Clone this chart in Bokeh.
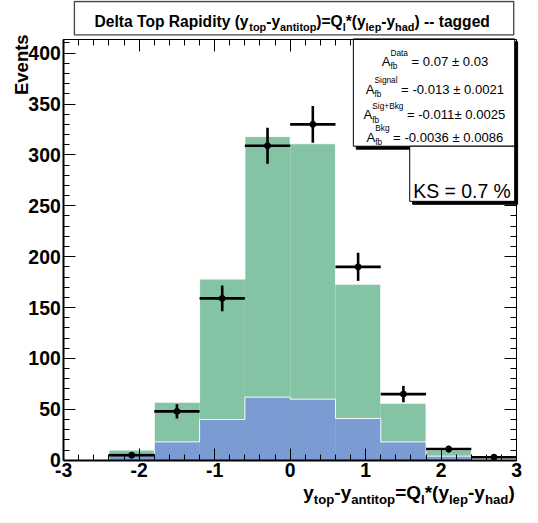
import numpy as np
from bokeh.plotting import figure
from bokeh.models import (Range1d, LinearAxis, FixedTicker, SingleIntervalTicker,
                          CustomJSTickFormatter, ColumnDataSource)
from bokeh.core.properties import value
from bokeh.embed import file_html
from bokeh.resources import INLINE

# ---------------- data ----------------
bin_edges = [-3.0, -2.4, -1.8, -1.2, -0.6, 0.0, 0.6, 1.2, 1.8, 2.4, 3.0]
sig_bkg_counts = [0, 10, 57, 178, 318, 311, 173, 56, 10, 1]      # green, stacked total
bkg_counts = [0, 6, 18, 40, 62, 60, 41, 18, 4, 0.5]             # blue
data_counts = [0, 5, 48, 159, 309, 330, 190, 65, 11, 3]          # black points

x_ticks = [-3, -2, -1, 0, 1, 2, 3]
x_tick_labels = ["-3", "-2", "-1", "0", "1", "2", "3"]
y_ticks = [0, 50, 100, 150, 200, 250, 300, 350, 400]
y_tick_labels = ["0", "50", "100", "150", "200", "250", "300", "350", "400"]

stat_names = ["Data", "Signal", "Sig+Bkg", "Bkg"]
stat_values = ["= 0.07 ± 0.03", "= -0.013 ± 0.0021", "= -0.011± 0.0025", "= -0.0036 ± 0.0086"]
ks_text = "KS = 0.7 %"
y_title = "Events"

X_MIN, X_MAX = -3.0, 3.0
Y_MAX = 413.0

GREEN = "#85C3A5"
BLUE = "#7B9BD3"
FONT = "Liberation Sans"

# ---------------- geometry (reference image px -> canvas px) ----------------
W, H = 522, 507
SX = 520.0 / 535.0
SY = 505.0 / 513.0


def fx(ix):
    return 1 + (ix - 3) * SX


def fy(iy):
    return 1 + (iy - 6) * SY


L = fx(67)
R = fx(533)
T = fy(45)
B = fy(472)
PX_X = (X_MAX - X_MIN) / (R - L)   # data units per px
PX_Y = Y_MAX / (B - T)


def img2data(ix, iy):
    x = X_MIN + (fx(ix) - L) * PX_X
    y = (B - fy(iy)) * PX_Y
    return x, y


x_range = Range1d(X_MIN - L * PX_X, X_MAX + (W - R) * PX_X)
y_range = Range1d(-(H - B) * PX_Y, Y_MAX + T * PX_Y)

p = figure(width=W, height=H, x_range=x_range, y_range=y_range,
           output_backend="svg", toolbar_location=None,
           x_axis_type=None, y_axis_type=None, min_border=0)
p.grid.visible = False
p.outline_line_color = None

# ---------------- histograms ----------------
edges = np.array(bin_edges)
lefts, rights = edges[:-1], edges[1:]
p.quad(left=lefts, right=rights, bottom=0, top=sig_bkg_counts, fill_color=GREEN, line_color=None)
p.step(x=bin_edges, y=sig_bkg_counts + [sig_bkg_counts[-1]], mode="after",
       line_color="white", line_width=1, line_alpha=0.9)
p.quad(left=lefts, right=rights, bottom=0, top=bkg_counts, fill_color=BLUE, line_color=None)
p.step(x=bin_edges, y=bkg_counts + [bkg_counts[-1]], mode="after",
       line_color="white", line_width=1, line_alpha=0.9)

# ---------------- data points ----------------
dc = np.array(data_counts, dtype=float)
centers = (lefts + rights) / 2
m = dc > 0
err = np.sqrt(dc[m])
p.segment(x0=lefts[m], x1=rights[m], y0=dc[m], y1=dc[m], line_color="black", line_width=2.6)
p.segment(x0=centers[m], x1=centers[m], y0=dc[m] - err, y1=dc[m] + err, line_color="black", line_width=2.6)
p.scatter(centers[m], dc[m], size=6, color="black")

# ---------------- boxes (title + stats), drawn as glyphs ----------------
box_specs = [  # (left, top, right, bottom) in reference px, shadow, line colour, width
    ((78, 6, 530, 40), 0, "#444444", 1.3),
    ((365, 44, 531, 153), 3, "black", 1.0),
    ((423, 153, 531, 209), 3, "black", 1.0),
]
sh_l, sh_r, sh_t, sh_b = [], [], [], []
bx_l, bx_r, bx_t, bx_b, bx_c, bx_w = [], [], [], [], [], []
for (l, t, r, b), sh, lc, lw in box_specs:
    if sh:
        x0, y0 = img2data(l + sh, t + sh)
        x1, y1 = img2data(r + sh, b + sh)
        sh_l.append(x0); sh_r.append(x1); sh_t.append(y0); sh_b.append(y1)
    x0, y0 = img2data(l, t)
    x1, y1 = img2data(r, b)
    bx_l.append(x0); bx_r.append(x1); bx_t.append(y0); bx_b.append(y1)
    bx_c.append(lc); bx_w.append(lw)
p.quad(left=sh_l, right=sh_r, top=sh_t, bottom=sh_b, fill_color="black", line_color="black")
p.quad(left=bx_l, right=bx_r, top=bx_t, bottom=bx_b, fill_color="white",
       line_color=bx_c, line_width=bx_w)

# ---------------- axes: lines, inward ROOT-style ticks, labels ----------------
lab_size = f"{20.0 * SX:.1f}px"


def ticks_in(ax):
    ax.major_tick_in = 12
    ax.major_tick_out = 0
    ax.minor_tick_in = 6
    ax.minor_tick_out = 0


def label_style(ax):
    ax.major_label_text_font = FONT
    ax.major_label_text_font_style = "bold"
    ax.major_label_text_font_size = lab_size
    ax.major_label_text_color = "black"


xb = LinearAxis(ticker=SingleIntervalTicker(interval=1, num_minor_ticks=5),
                major_label_overrides={t: s for t, s in zip(x_ticks, x_tick_labels)},
                fixed_location=0, bounds=(X_MIN, X_MAX))
ticks_in(xb)
label_style(xb)
xb.axis_line_width = 2
xb.major_label_standoff = 3
p.add_layout(xb, "below")

yl = LinearAxis(ticker=SingleIntervalTicker(interval=50, num_minor_ticks=5),
                major_label_overrides={t: s for t, s in zip(y_ticks, y_tick_labels)},
                fixed_location=X_MIN, bounds=(0, Y_MAX))
ticks_in(yl)
label_style(yl)
yl.axis_line_width = 2
yl.major_label_standoff = 3
p.add_layout(yl, "left")

# top and right frame lines
xt = LinearAxis(ticker=FixedTicker(ticks=[]), fixed_location=Y_MAX, bounds=(X_MIN, X_MAX))
xt.axis_line_width = 1
p.add_layout(xt, "above")
yr = LinearAxis(ticker=FixedTicker(ticks=[]), fixed_location=X_MAX, bounds=(0, Y_MAX))
yr.axis_line_width = 1
p.add_layout(yr, "right")

# top and right ticks, stopping where the statistics boxes hide them
box_left_x = bx_l[1]
box_bottom_y = bx_b[2]
xt2 = LinearAxis(ticker=SingleIntervalTicker(interval=1, num_minor_ticks=5),
                 formatter=CustomJSTickFormatter(code="return ''"),
                 fixed_location=Y_MAX, bounds=(X_MIN, box_left_x))
ticks_in(xt2)
xt2.axis_line_color = None
xt2.major_label_standoff = 0
p.add_layout(xt2, "above")
yr2 = LinearAxis(ticker=SingleIntervalTicker(interval=50, num_minor_ticks=5),
                 formatter=CustomJSTickFormatter(code="return ''"),
                 fixed_location=X_MAX, bounds=(0, box_bottom_y))
ticks_in(yr2)
yr2.axis_line_color = None
yr2.major_label_standoff = 0
p.add_layout(yr2, "right")

# ---------------- text (as one text glyph) ----------------
REG = {' ': 278, '%': 889, '(': 333, ')': 333, '*': 389, '+': 584, '-': 333, '.': 278,
       '=': 584, '±': 549, 'A': 667, 'B': 667, 'D': 722, 'K': 667, 'S': 667,
       'a': 556, 'b': 556, 'e': 556, 'f': 278, 'g': 556, 'i': 222, 'k': 500,
       'l': 222, 'n': 556, 't': 278}
BOLD = {' ': 278, '(': 333, ')': 333, '*': 389, '-': 333, '=': 584, 'D': 722, 'T': 611,
        'R': 722, 'Q': 778, 'E': 667, 'a': 556, 'd': 611, 'e': 556, 'g': 611, 'h': 611,
        'i': 278, 'l': 278, 'n': 611, 'o': 611, 'p': 611, 's': 556, 't': 333, 'v': 556,
        'y': 556}

TXT = dict(x=[], y=[], text=[], size=[], style=[], angle=[])


def text_width(s, size, bold):
    tbl = BOLD if bold else REG
    return sum(tbl.get(c, 556) for c in s) * size / 1000.0


def add_text(ix, iy, txt, size, bold=False, angle=0.0):
    x, y = img2data(ix, iy)
    TXT["x"].append(x)
    TXT["y"].append(y)
    TXT["text"].append(txt)
    TXT["size"].append(f"{size * SX:.1f}px")
    TXT["style"].append("bold" if bold else "normal")
    TXT["angle"].append(angle)


def add_rich(items, ix, iy, align="left", bold=False):
    widths = [max(text_width(t, s, bold) for t, s, d in it) for it in items]
    total = sum(widths)
    if align == "right":
        x0 = ix - total
    elif align == "center":
        x0 = ix - total / 2.0
    else:
        x0 = ix
    for it, w in zip(items, widths):
        for t, s, d in it:
            lead = len(t) - len(t.lstrip(" "))
            xs = x0 + text_width(" " * lead, s, bold)
            add_text(xs, iy - d, t.strip(" "), s, bold)
        x0 += w


# title
TS, TSS, TD = 16.0, 11.2, -5.4
title_items = [
    [("Delta Top Rapidity (y", TS, 0)], [("top", TSS, TD)], [("-y", TS, 0)],
    [("antitop", TSS, TD)], [(")=Q", TS, 0)], [("l", TSS, TD)], [("*(y", TS, 0)],
    [("lep", TSS, TD)], [("-y", TS, 0)], [("had", TSS, TD)], [(") -- tagged", TS, 0)],
]
add_rich(title_items, 302, 26, align="center", bold=True)

# x-axis title
XS, XSS, XD = 19.5, 13.6, -7.0
xtitle_items = [
    [("y", XS, 0)], [("top", XSS, XD)], [("-y", XS, 0)], [("antitop", XSS, XD)],
    [("=Q", XS, 0)], [("l", XSS, XD)], [("*(y", XS, 0)], [("lep", XSS, XD)],
    [("-y", XS, 0)], [("had", XSS, XD)], [(")", XS, 0)],
]
add_rich(xtitle_items, 531, 505, align="right", bold=True)

# y-axis title
add_text(24, 101, y_title, 19.0, bold=True, angle=np.pi / 2)

# stats text
SS, SUP = 13.5, 8.5
baselines = [67, 95, 121, 144]
for name, val, bl in zip(stat_names, stat_values, baselines):
    items = [[("A", SS, 0)], [(name, SUP, 9), ("fb", SUP, -5)], [(" " + val, SS, 0)]]
    add_rich(items, 449, bl, align="center", bold=False)

add_rich([[(ks_text, 20.0, 0)]], 477, 198, align="center", bold=False)

src = ColumnDataSource(TXT)
p.text(x="x", y="y", text="text", source=src, text_font=value(FONT),
       text_font_size="size", text_font_style="style", angle="angle",
       text_align="left", text_baseline="alphabetic", text_color="black")

open("out.html", "w").write(file_html(p, INLINE))
